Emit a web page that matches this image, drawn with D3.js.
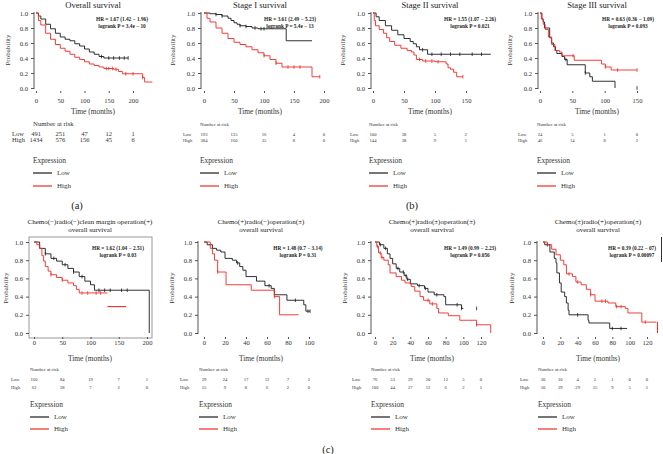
<!DOCTYPE html>
<html><head><meta charset="utf-8">
<script src="https://cdn.jsdelivr.net/npm/d3@7"></script>
<style>body{margin:0;background:#fff}svg{display:block;font-family:"Liberation Serif","Times New Roman",serif}</style>
</head><body><svg id="c" width="663" height="454"></svg>
<script>
// ---------- DATA ----------
const titles = [["Overall survival"],["Stage I survival"],["Stage II survival"],["Stage III survival"],
  ["Chemo(−)radio(−)clean margin operation(+)","overall survival"],
  ["Chemo(+)radio(−)operation(±)","overall survival"],
  ["Chemo(+)radio(±)operation(±)","overall survival"],
  ["Chemo(±)radio(+)operation(±)","overall survival"]];
const hrTexts = ["HR = 1.67 (1.42 − 1.96)","HR = 3.61 (2.49 − 5.23)","HR = 1.55 (1.07 − 2.26)","HR = 0.63 (0.36 − 1.09)",
  "HR = 1.62 (1.04 − 2.51)","HR = 1.48 (0.7 − 3.14)","HR = 1.49 (0.99 − 2.23)","HR = 0.39 (0.22 − 07)"];
const pTexts = ["logrank P = 3.4e − 10","logrank P = 5.4e − 13","logrank P = 0.021","logrank P = 0.093",
  "logrank P = 0.03","logrank P = 0.31","logrank P = 0.056","logrank P = 0.00097"];
const yTicks = [0,0.2,0.4,0.6,0.8,1.0];
const xTicks200 = [0,50,100,150,200];
const xTicks150 = [0,50,100,150];
const xTicks100 = [0,20,40,60,80,100];
const xTicks120 = [0,20,40,60,80,100,120];
const seriesNames = ["Low","High"];
const panelLabels = ["(a)","(b)","(c)"];

// survival steps [time, probability]
const p1Low = [[0,1],[5,0.96],[10,0.92],[20,0.85],[30,0.79],[40,0.73],[50,0.68],[60,0.65],[70,0.63],[80,0.59],[90,0.56],[100,0.52],[110,0.48],[120,0.45],[130,0.42],[140,0.40],[190,0.40]];
const p1High = [[0,1],[5,0.9],[10,0.84],[20,0.73],[30,0.65],[40,0.58],[50,0.53],[60,0.49],[70,0.45],[80,0.41],[90,0.38],[100,0.35],[110,0.32],[120,0.30],[130,0.28],[140,0.26],[160,0.25],[170,0.22],[178,0.19],[220,0.14],[224,0.08],[240,0.08]];
const p1LowCens = [135,150,160,172,182,190];
const p1HighCens = [145,150,158,165,185,200,220];
const p1RiskLow = [491,251,47,12,1];
const p1RiskHigh = [1434,576,156,45,6];

const p2Low = [[0,1],[10,0.99],[20,0.98],[30,0.96],[40,0.93],[45,0.9],[50,0.87],[55,0.85],[60,0.83],[70,0.82],[80,0.80],[90,0.79],[137,0.63],[180,0.63]];
const p2High = [[0,1],[5,0.93],[10,0.88],[20,0.80],[30,0.73],[40,0.66],[50,0.61],[60,0.58],[70,0.55],[80,0.51],[90,0.47],[100,0.43],[110,0.38],[120,0.33],[130,0.28],[180,0.15],[193,0.15]];
const p2LowCens = [20,30,60,70,85,95,100];
const p2HighCens = [100,120,140,150,160,193];
const p2RiskLow = [193,135,16,4,0];
const p2RiskHigh = [384,160,35,8,0];

const p3Low = [[0,1],[5,0.95],[10,0.9],[20,0.83],[30,0.77],[40,0.71],[50,0.66],[60,0.62],[65,0.59],[70,0.55],[75,0.51],[88,0.45],[190,0.45]];
const p3High = [[0,1],[2,0.9],[4,0.83],[10,0.78],[17,0.73],[22,0.67],[27,0.62],[35,0.57],[45,0.53],[55,0.50],[62,0.48],[66,0.44],[70,0.38],[80,0.36],[100,0.35],[118,0.32],[121,0.27],[125,0.25],[130,0.21],[135,0.15],[145,0.15]];
const p3LowCens = [80,95,110,125,140,160,175];
const p3HighCens = [75,85,95,105,145];
const p3RiskLow = [100,38,5,2];
const p3RiskHigh = [144,38,9,1];

const p4Low = [[0,1],[3,0.92],[5,0.88],[7,0.8],[15,0.67],[18,0.6],[21,0.55],[24,0.5],[26,0.46],[34,0.42],[38,0.38],[42,0.31],[70,0.2],[77,0.15],[81,0.09],[116,0]];
const p4High = [[0,1],[2,0.92],[5,0.85],[8,0.78],[13,0.68],[18,0.58],[23,0.5],[30,0.48],[34,0.43],[53,0.37],[95,0.32],[101,0.28],[110,0.24],[150,0.24]];
const p4LowCens = [40,70,150];
const p4HighCens = [51,101,120,150];
const p4RiskLow = [24,5,1,0];
const p4RiskHigh = [46,14,8,2];

const p5Low = [[0,1],[10,0.93],[20,0.87],[30,0.82],[40,0.79],[50,0.75],[60,0.71],[70,0.67],[80,0.62],[90,0.57],[100,0.53],[107,0.47],[204,0]];
const p5High = [[0,1],[5,0.97],[10,0.93],[14,0.85],[17,0.79],[20,0.73],[25,0.68],[30,0.64],[40,0.61],[50,0.58],[60,0.55],[70,0.52],[75,0.48],[80,0.44],[130,0.44]];
const p5HighTail = [[130,0.29],[163,0.29]];
const p5LowCens = [20,35,55,70,85,115,125,135,155,165];
const p5HighCens = [30,50,85,95,110,118];
const p5RiskLow = [160,84,19,7,1];
const p5RiskHigh = [63,28,7,2,0];

const p6Low = [[0,1],[3,0.97],[8,0.93],[12,0.91],[16,0.89],[20,0.82],[27,0.80],[31,0.77],[34,0.73],[37,0.69],[40,0.62],[50,0.57],[58,0.52],[64,0.49],[67,0.42],[79,0.36],[95,0.31],[97,0.24],[101,0.24]];
const p6High = [[0,1],[6,0.93],[8,0.87],[10,0.80],[13,0.67],[21,0.53],[45,0.47],[67,0.40],[72,0.20],[90,0.20]];
const p6LowCens = [32,62,87,99,101];
const p6HighCens = [13,67];
const p6RiskLow = [29,24,17,12,7,2];
const p6RiskHigh = [15,9,8,6,2,0];

const p7Low = [[0,1],[5,0.97],[10,0.93],[14,0.87],[17,0.82],[20,0.76],[24,0.71],[28,0.67],[33,0.63],[36,0.59],[40,0.54],[48,0.52],[56,0.49],[60,0.45],[67,0.42],[78,0.40],[80,0.31],[98,0.27],[100,0.27]];
const p7High = [[0,1],[2,0.95],[4,0.88],[7,0.83],[10,0.80],[15,0.75],[17,0.66],[24,0.62],[30,0.58],[34,0.55],[41,0.51],[45,0.46],[51,0.40],[55,0.36],[62,0.32],[70,0.27],[72,0.22],[83,0.19],[96,0.14],[115,0.09],[131,0]];
const p7LowCens = [6,12,26,32,35,37,50,57,70,93,98,115];
const p7HighCens = [3,6,8,60,65,115];
const p7RiskLow = [76,53,29,20,12,5,0];
const p7RiskHigh = [100,44,27,12,6,2,1];

const p8Low = [[0,1],[2,0.97],[8,0.89],[13,0.82],[15,0.77],[16,0.66],[19,0.55],[21,0.45],[25,0.40],[27,0.33],[29,0.25],[30,0.20],[52,0.14],[53,0.11],[77,0.05],[97,0.05]];
const p8High = [[0,1],[5,0.97],[10,0.92],[15,0.86],[20,0.80],[24,0.75],[27,0.65],[34,0.62],[38,0.56],[44,0.53],[50,0.48],[55,0.42],[60,0.35],[75,0.33],[84,0.29],[95,0.27],[98,0.22],[114,0.12],[131,0.12]];
const p8LowCens = [5,40,80,90];
const p8HighCens = [30,40,55,68,72,85,90,118];
const p8RiskLow = [30,10,4,2,1,0,0];
const p8RiskHigh = [50,39,29,15,9,5,1];

// ---------- LAYOUT ----------
const rows = [
  {yTop:13, yBot:88, titleY:[4.5], hrY:[19,26], xLabY:101, tickY:91, timeY:111, riskTitleY:124, lowY:134, highY:140, exprY:160, legY:[173,186], ylabY:50},
  {yTop:242, yBot:333, titleY:[221.5,230], hrY:[248,255], xLabY:343, tickY:337, timeY:358, riskTitleY:369, lowY:379, highY:387, exprY:404, legY:[417,429], ylabY:288}
];
const panels = [
  {row:0, low:p1Low, high:p1High, lc:p1LowCens, hc:p1HighCens, rl:p1RiskLow, rh:p1RiskHigh, ticks:xTicks200, x0:36, x1:133, axisX:34, titleX:93, hrX:122, ylabX:8, rowLabX:12, leftX:33, riskFont:6.5},
  {row:0, low:p2Low, high:p2High, lc:p2LowCens, hc:p2HighCens, rl:p2RiskLow, rh:p2RiskHigh, ticks:xTicks200, x0:204, x1:324, axisX:201, titleX:260, hrX:290, ylabX:173, rowLabX:183, leftX:200, riskFont:4.6},
  {row:0, low:p3Low, high:p3High, lc:p3LowCens, hc:p3HighCens, rl:p3RiskLow, rh:p3RiskHigh, ticks:xTicks150, x0:373, x1:466, axisX:371, titleX:430, hrX:470, ylabX:343, rowLabX:350, leftX:369, riskFont:4.6},
  {row:0, low:p4Low, high:p4High, lc:p4LowCens, hc:p4HighCens, rl:p4RiskLow, rh:p4RiskHigh, ticks:xTicks150, x0:540, x1:637, axisX:538, titleX:597, hrX:628, ylabX:510, rowLabX:518, leftX:537, riskFont:4.6},
  {row:1, low:p5Low, high:p5High, lc:p5LowCens, hc:p5HighCens, rl:p5RiskLow, rh:p5RiskHigh, ticks:xTicks200, x0:34, x1:147, axisX:29, titleX:90, hrX:118, ylabX:6, rowLabX:11, leftX:30, riskFont:4.6, box:[29,237,152,338]},
  {row:1, low:p6Low, high:p6High, lc:p6LowCens, hc:p6HighCens, rl:p6RiskLow, rh:p6RiskHigh, ticks:xTicks100, x0:204, x1:309, axisX:198, titleX:261, hrX:298, ylabX:172, rowLabX:180, leftX:199, riskFont:4.6},
  {row:1, low:p7Low, high:p7High, lc:p7LowCens, hc:p7HighCens, rl:p7RiskLow, rh:p7RiskHigh, ticks:xTicks120, x0:375, x1:481, axisX:371, titleX:432, hrX:470, ylabX:345, rowLabX:352, leftX:371, riskFont:4.6},
  {row:1, low:p8Low, high:p8High, lc:p8LowCens, hc:p8HighCens, rl:p8RiskLow, rh:p8RiskHigh, ticks:xTicks120, x0:543, x1:647, axisX:537, titleX:598, hrX:632, ylabX:512, rowLabX:520, leftX:538, riskFont:4.6}
];
const BLACK = "#1b1b1b", RED = "#ee2a24", AX = "#555";

const svg = d3.select("#c");
function stepVal(data, t){ let v = data[0][1]; for(const d of data){ if(d[0] <= t) v = d[1]; } return v; }

panels.forEach((P, i) => {
  const R = rows[P.row];
  const g = svg.append("g");
  const xmax = P.ticks[P.ticks.length-1];
  const x = d3.scaleLinear().domain([0, xmax]).range([P.x0, P.x1]);
  const y = d3.scaleLinear().domain([0, 1]).range([R.yBot, R.yTop]);

  // titles
  titles[i].forEach((t, k) => g.append("text").attr("x", P.titleX).attr("y", R.titleY[k]).attr("dy","0.35em")
    .attr("text-anchor","middle").attr("font-size", P.row===0 ? 8.6 : 7).attr("fill","#222").text(t));

  if (P.box) g.append("rect").attr("x",P.box[0]).attr("y",P.box[1]).attr("width",P.box[2]-P.box[0]).attr("height",P.box[3]-P.box[1])
    .attr("fill","none").attr("stroke","#999").attr("stroke-width",1);

  // y axis
  const ya = g.append("g").attr("transform",`translate(${P.axisX},0)`)
    .call(d3.axisLeft(y).tickValues(yTicks).tickFormat(d3.format(".1f")).tickSize(3).tickPadding(3));
  ya.select(".domain").attr("stroke", P.box ? "none" : AX).attr("d", `M0,${R.yTop-1}V${R.yBot+1}`);
  ya.selectAll(".tick line").attr("stroke", AX);
  ya.selectAll("text").attr("font-size", 6.6).attr("font-family","Liberation Serif").attr("fill","#333");

  // x axis (ticks only)
  const xa = g.append("g").attr("transform",`translate(0,${R.tickY})`)
    .call(d3.axisBottom(x).tickValues(P.ticks).tickFormat(d3.format("d")).tickSize(2).tickPadding(0));
  xa.select(".domain").remove();
  xa.selectAll(".tick line").attr("stroke", AX);
  xa.selectAll("text").attr("font-size", 6.6).attr("font-family","Liberation Serif").attr("fill","#333")
    .attr("y", R.xLabY - R.tickY).attr("dy","0.35em");

  g.append("text").attr("transform",`translate(${P.ylabX},${R.ylabY}) rotate(-90)`).attr("dy","0.35em")
    .attr("text-anchor","middle").attr("font-size",7).attr("fill","#333").text("Probability");
  g.append("text").attr("x", P.titleX).attr("y", R.timeY).attr("dy","0.35em").attr("text-anchor","middle")
    .attr("font-size",7.4).attr("fill","#333").text("Time (months)");

  // curves
  const line = d3.line().x(d => x(d[0])).y(d => y(d[1])).curve(d3.curveStepAfter);
  [[P.low, P.lc, BLACK],[P.high, P.hc, RED]].forEach(([data, cens, col]) => {
    g.append("path").attr("d", line(data)).attr("fill","none").attr("stroke",col).attr("stroke-width",0.9);
    cens.forEach(t => {
      const yy = y(stepVal(data, t));
      g.append("line").attr("x1",x(t)).attr("x2",x(t)).attr("y1",yy-1.8).attr("y2",yy+1.8).attr("stroke",col).attr("stroke-width",0.8);
    });
  });
  if (i === 4) g.append("path").attr("d", line(p5HighTail)).attr("fill","none").attr("stroke",RED).attr("stroke-width",1.1);

  // HR text
  g.append("text").attr("x",P.hrX).attr("y",R.hrY[0]).attr("dy","0.35em").attr("text-anchor","middle")
    .attr("font-size",5.3).attr("font-weight","bold").attr("fill","#222").text(hrTexts[i]);
  g.append("text").attr("x",P.hrX).attr("y",R.hrY[1]).attr("dy","0.35em").attr("text-anchor","middle")
    .attr("font-size",5.3).attr("font-weight","bold").attr("fill","#222").text(pTexts[i]);

  // risk table
  g.append("text").attr("x",P.leftX).attr("y",R.riskTitleY).attr("dy","0.35em").attr("font-size", i===0 ? 6.8 : 4.8)
    .attr("fill","#333").text("Number at risk");
  [[P.rl, R.lowY, seriesNames[0]],[P.rh, R.highY, seriesNames[1]]].forEach(([vals, yy, nm]) => {
    g.append("text").attr("x",P.rowLabX).attr("y",yy).attr("dy","0.35em").attr("font-size",P.riskFont).attr("fill","#333").text(nm);
    vals.forEach((v, k) => g.append("text").attr("x", x(P.ticks[k])).attr("y", yy).attr("dy","0.35em")
      .attr("text-anchor","middle").attr("font-size",P.riskFont).attr("fill","#333").text(v));
  });

  // legend
  g.append("text").attr("x",P.leftX).attr("y",R.exprY).attr("dy","0.35em").attr("font-size",7.4).attr("fill","#333").text("Expression");
  [[BLACK, seriesNames[0]],[RED, seriesNames[1]]].forEach(([col, nm], k) => {
    g.append("line").attr("x1",P.leftX).attr("x2",P.leftX+19).attr("y1",R.legY[k]).attr("y2",R.legY[k]).attr("stroke",col).attr("stroke-width",1.2);
    g.append("text").attr("x",P.leftX+24).attr("y",R.legY[k]).attr("dy","0.35em").attr("font-size",7).attr("fill","#333").text(nm);
  });
});

// extra edge lines in last panel
svg.append("line").attr("x1",661.5).attr("x2",661.5).attr("y1",237).attr("y2",262).attr("stroke","#333").attr("stroke-width",1);
svg.append("line").attr("x1",657.5).attr("x2",657.5).attr("y1",322).attr("y2",333).attr("stroke",RED).attr("stroke-width",1);

// panel labels
[[77,205],[412,205],[328,449]].forEach(([px,py],k) => svg.append("text").attr("x",px).attr("y",py).attr("dy","0.35em")
  .attr("text-anchor","middle").attr("font-size",10.5).attr("fill","#222").text(panelLabels[k]));
</script></body></html>
